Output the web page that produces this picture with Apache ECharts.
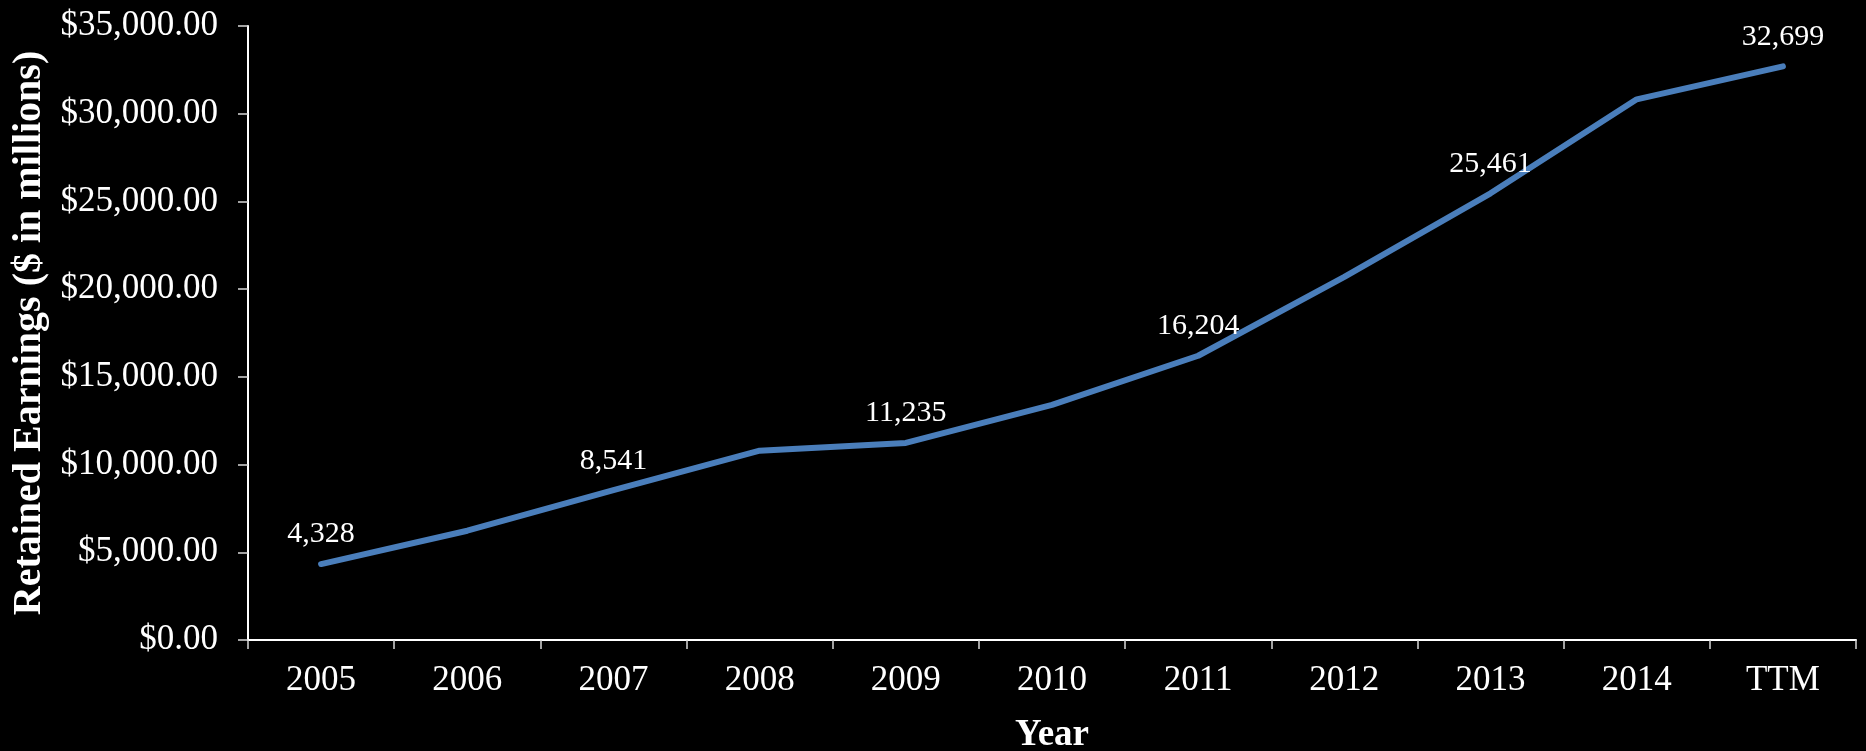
<!DOCTYPE html>
<html>
<head>
<meta charset="utf-8">
<script src="https://cdn.jsdelivr.net/npm/echarts@6/dist/echarts.min.js"></script>
<style>
  html, body { margin: 0; padding: 0; background: #000; }
  #chart { width: 1866px; height: 751px; }
</style>
</head>
<body>
<div id="chart"></div>
<script>
const categories = ['2005', '2006', '2007', '2008', '2009', '2010', '2011', '2012', '2013', '2014', 'TTM'];
const retainedEarnings = [4328, 6230, 8541, 10790, 11235, 13400, 16204, 20700, 25461, 30820, 32699];
const showValueLabel = [true, false, true, false, true, false, true, false, true, false, true];
const yTitle = 'Retained Earnings ($ in millions)';
const xTitle = 'Year';

const serif = '"Liberation Serif", "Times New Roman", serif';

const seriesData = retainedEarnings.map((v, i) => ({
  value: v,
  label: { show: showValueLabel[i] }
}));

const chart = echarts.init(document.getElementById('chart'));
chart.setOption({
  backgroundColor: '#000000',
  animation: false,
  grid: { left: 248, right: 10, top: 26, bottom: 111, containLabel: false, outerBoundsMode: 'none' },
  xAxis: {
    type: 'category',
    data: categories,
    boundaryGap: true,
    name: xTitle,
    nameLocation: 'middle',
    nameGap: 77,
    nameTextStyle: { color: '#ffffff', fontFamily: serif, fontSize: 37, fontWeight: 'bold' },
    axisLine: { show: true, lineStyle: { color: '#ffffff', width: 2 } },
    axisTick: { show: true, length: 9, alignWithLabel: false, lineStyle: { color: '#d9d9d9', width: 1.5 } },
    axisLabel: { color: '#ffffff', fontFamily: serif, fontSize: 35, margin: 23, interval: 0 },
    splitLine: { show: false }
  },
  yAxis: {
    type: 'value',
    min: 0,
    max: 35000,
    interval: 5000,
    name: yTitle,
    nameLocation: 'middle',
    nameGap: 189,
    nameTextStyle: { color: '#ffffff', fontFamily: serif, fontSize: 40, fontWeight: 'bold' },
    axisLine: { show: true, lineStyle: { color: '#ffffff', width: 2 } },
    axisTick: { show: true, length: 10, lineStyle: { color: '#d9d9d9', width: 1.5 } },
    axisLabel: {
      color: '#ffffff', fontFamily: serif, fontSize: 35, margin: 30,
      formatter: v => '$' + v.toLocaleString('en-US', { minimumFractionDigits: 2, maximumFractionDigits: 2 })
    },
    splitLine: { show: false }
  },
  series: [{
    type: 'line',
    data: seriesData,
    symbol: 'circle',
    symbolSize: 1,
    showSymbol: true,
    itemStyle: { color: '#4a7ebb' },
    lineStyle: { color: '#4a7ebb', width: 6, cap: 'round', join: 'round' },
    label: {
      show: false,
      position: 'top',
      distance: 14,
      color: '#ffffff',
      fontFamily: serif,
      fontSize: 30,
      formatter: p => p.value.toLocaleString('en-US')
    }
  }]
});
</script>
</body>
</html>
